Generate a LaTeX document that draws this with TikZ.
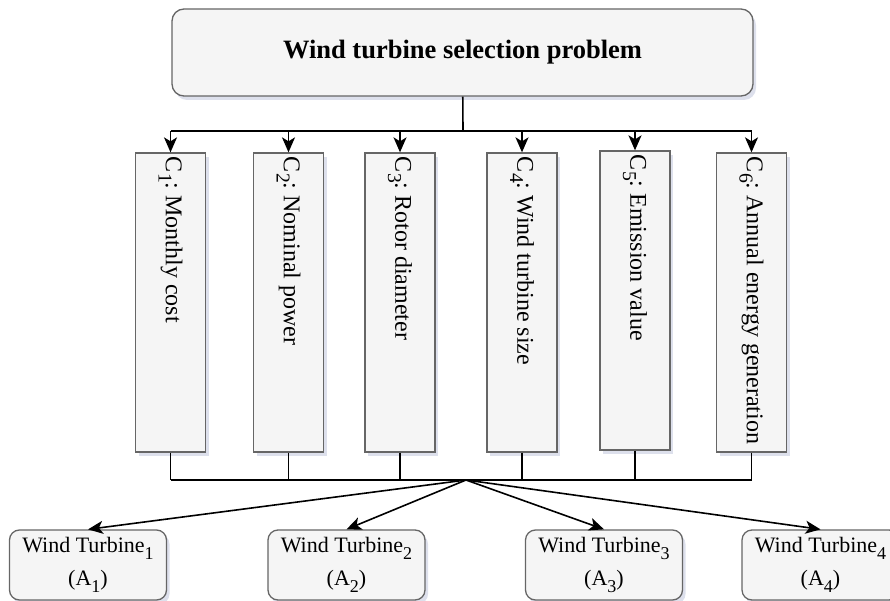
\documentclass[tikz,border=0pt]{standalone}
\usepackage{fontspec}
\setmainfont{Liberation Serif}
\usetikzlibrary{arrows.meta, shadows}
\definecolor{boxfill}{HTML}{F5F5F5}
\definecolor{boxline}{HTML}{666666}
\definecolor{shade}{HTML}{9098C0}
% lowered index as the picture prints it
\newcommand{\idx}[1]{\raisebox{-.3em}{\scalebox{.82}{#1}}}

\begin{document}
\begin{tikzpicture}[
        x=1pt, y=-1pt,
        % Common look of all boxes
        box/.style={draw=boxline, fill=boxfill, line width=1.3pt,
            drop shadow={shadow xshift=3pt, shadow yshift=-4pt, fill=shade, opacity=0.3}},
        problem/.style={box, rounded corners=12pt, minimum width=581pt,
            minimum height=87pt, font=\fontsize{26.5}{30}\selectfont\bfseries},
        % criteria are turned, text runs downwards
        criterion/.style={box, rotate=-90, inner xsep=4pt, text width=291pt,
            minimum height=70pt, align=flush left,
            font=\fontsize{24}{28}\selectfont\frenchspacing},
        alternative/.style={box, rounded corners=10pt, minimum width=157pt,
            minimum height=70pt, align=center, font=\fontsize{22}{33}\selectfont},
        link/.style={line width=1.6pt},
        arrow/.style={link, -{Stealth[length=15pt, width=13pt, inset=4pt]}}
    ]
    \useasboundingbox (0,0) rectangle (890,601);

    \node[problem] (goal) at (462.5,52.5) {Wind turbine selection problem};

    \node[criterion] (c1) at (170.5,302.5) {C\idx{1}: Monthly cost};
    \node[criterion] (c2) at (288.5,302.5) {C\idx{2}: Nominal power};
    \node[criterion] (c3) at (400,302.5) {C\idx{3}: Rotor diameter};
    \node[criterion] (c4) at (522,302.5) {C\idx{4}: Wind turbine size};
    \node[criterion] (c5) at (635,300.5) {C\idx{5}: Emission value};
    \node[criterion] (c6) at (751.5,302.5) {C\idx{6}: Annual energy generation};

    \node[alternative] (a1) at (88,565) {Wind Turbine\idx{1}\\(A\idx{1})};
    \node[alternative] (a2) at (346.5,565) {Wind Turbine\idx{2}\\(A\idx{2})};
    \node[alternative] (a3) at (604,565) {Wind Turbine\idx{3}\\(A\idx{3})};
    \node[alternative] (a4) at (820.5,565) {Wind Turbine\idx{4}\\(A\idx{4})};

    % upper bus: goal to criteria
    \coordinate (split) at (463,131);
    \draw[link] (goal) -- (split);
    \draw[link] (split -| c1) -- (split -| c6);
    \foreach \i in {1,...,6}
        \draw[arrow] (split -| c\i) -- (c\i.west);

    % lower bus: criteria to alternatives
    \coordinate (merge) at (466,480);
    \draw[link] (merge -| c1) -- (merge -| c6);
    \foreach \i in {1,...,6}
        \draw[link] (c\i.east) -- (merge -| c\i);
    \foreach \j in {1,...,4}
        \draw[arrow] (merge) -- (a\j.north);
\end{tikzpicture}
\end{document}
